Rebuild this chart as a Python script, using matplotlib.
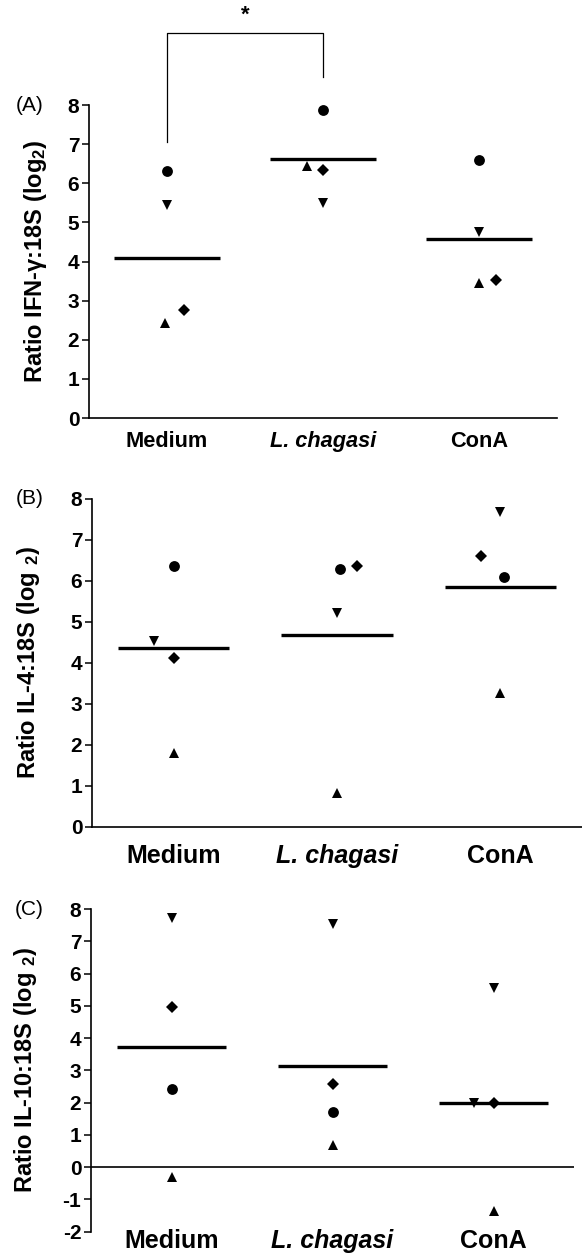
import numpy as np
import matplotlib
matplotlib.use('Agg')
import matplotlib.pyplot as plt

plt.rcParams['font.family'] = ['Liberation Sans', 'DejaVu Sans']
plt.rcParams['mathtext.default'] = 'regular'

categories = ['Medium', 'L. chagasi', 'ConA']

# panel A: IFN-gamma
a_circle = [6.31, 7.88, 6.60]
a_down = [5.45, 5.49, 4.75]
a_up = [2.42, 6.45, 3.44]
a_diamond = [2.76, 6.35, 3.52]
a_mean = [4.08, 6.62, 4.58]

# panel B: IL-4
b_circle = [6.37, 6.28, 6.10]
b_down = [4.54, 5.21, 7.67]
b_up = [1.80, 0.82, 3.26]
b_diamond = [4.11, 6.37, 6.61]
b_mean = [4.36, 4.68, 5.85]

# panel C: IL-10
c_circle = [2.41, 1.70, np.nan]
c_down = [7.71, 7.55, 5.54]
c_down2 = [np.nan, np.nan, 2.00]
c_up = [-0.29, 0.69, -1.37]
c_diamond = [4.97, 2.58, 2.00]
c_mean = [3.73, 3.15, 2.00]

# significance bracket (A): Medium vs L. chagasi
sig_top = 9.84
sig_left_bottom = 7.05
sig_right_bottom = 8.72

x = np.arange(len(categories))

fig = plt.figure(figsize=(5.82, 12.53), dpi=100)
axA = fig.add_axes([0.1529, 0.6664, 0.8041, 0.2498])
axB = fig.add_axes([0.1581, 0.3400, 0.8419, 0.2618])
axC = fig.add_axes([0.1564, 0.0170, 0.8299, 0.2575])


def draw_panel(ax, series, offsets, mean, ylim, yticks, ylabel, letter,
               xfs, pad, lx):
    for (vals, mk, ms), off in zip(series, offsets):
        ax.plot(x + np.array(off), vals, ls='none', marker=mk, ms=ms,
                color='black', mew=0, zorder=3)
    ax.hlines(mean, x - 0.34, x + 0.34, color='black', lw=2.4, zorder=4)
    ax.set_xlim(-0.5, 2.5)
    ax.set_ylim(*ylim)
    ax.set_yticks(yticks)
    ax.set_yticklabels([str(t) for t in yticks], fontsize=15, fontweight='bold')
    ax.set_xticks(x)
    ax.set_xticklabels(categories, fontsize=xfs, fontweight='bold')
    ax.get_xticklabels()[1].set_style('italic')
    ax.tick_params(axis='x', length=0, pad=pad)
    ax.tick_params(axis='y', length=5, width=1.1, pad=2)
    for s in ['top', 'right']:
        ax.spines[s].set_visible(False)
    ax.spines['left'].set_linewidth(1.2)
    ax.spines['bottom'].set_linewidth(1.2)
    ax.set_ylabel(ylabel, fontsize=17, fontweight='bold', va='center')
    ax.yaxis.set_label_coords(lx, 0.5)
    ax.text(-0.127, 1.0, letter, transform=ax.transAxes, fontsize=15,
            ha='center', va='center')


draw_panel(axA,
           [(a_circle, 'o', 7.8), (a_down, 'v', 7), (a_up, '^', 7), (a_diamond, 'D', 6.3)],
           [[0, 0, 0], [0, 0, 0], [-0.01, -0.10, 0], [0.11, 0, 0.11]],
           a_mean, (0, 8), list(range(0, 9)),
           r'Ratio IFN-$\gamma$:18S (log$_2$)', '(A)', 15.7, 9, -0.115)

draw_panel(axB,
           [(b_circle, 'o', 7.8), (b_down, 'v', 7), (b_up, '^', 7), (b_diamond, 'D', 6.3)],
           [[0, 0.02, 0.02], [-0.12, 0, 0], [0, 0, 0], [0, 0.12, -0.12]],
           b_mean, (0, 8), list(range(0, 9)),
           r'Ratio IL-4:18S (log $_2$)', '(B)', 18, 12, -0.13)

draw_panel(axC,
           [(c_circle, 'o', 7.8), (c_down, 'v', 7), (c_down2, 'v', 7),
            (c_up, '^', 7), (c_diamond, 'D', 6.3)],
           [[0, 0, 0], [0, 0, 0], [0, 0, -0.12], [0, 0, 0], [0, 0, 0]],
           c_mean, (-2, 8), list(range(-2, 9)),
           r'Ratio IL-10:18S (log $_2$)', '(C)', 18, -2, -0.135)
axC.spines['bottom'].set_visible(False)
axC.axhline(0, color='black', lw=1.2, zorder=2)

# significance bracket
axA.plot([0, 0, 1, 1], [sig_left_bottom, sig_top, sig_top, sig_right_bottom],
         color='black', lw=0.9, clip_on=False)
axA.text(0.5, sig_top + 0.45, '*', ha='center', va='center', fontsize=16,
         fontweight='bold', clip_on=False)

fig.savefig('out.png', dpi=100)
